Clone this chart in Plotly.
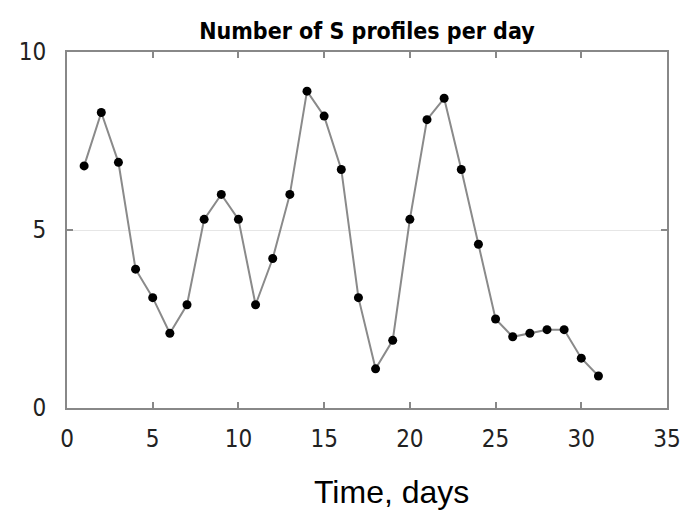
import plotly.graph_objects as go

days = list(range(1, 32))
profiles = [6.8, 8.3, 6.9, 3.9, 3.1, 2.1, 2.9, 5.3, 6.0, 5.3,
            2.9, 4.2, 6.0, 8.9, 8.2, 6.7, 3.1, 1.1, 1.9, 5.3,
            8.1, 8.7, 6.7, 4.6, 2.5, 2.0, 2.1, 2.2, 2.2, 1.4, 0.9]
x_ticks = [0, 5, 10, 15, 20, 25, 30, 35]
y_ticks = [0, 5, 10]

fig = go.Figure()
fig.add_trace(go.Scatter(
    x=days, y=profiles, mode="lines+markers",
    line=dict(color="#8a8a8a", width=2),
    marker=dict(color="black", size=9),
    showlegend=False,
))

axis_font = dict(family="DejaVu Sans Condensed", size=24, color="#222222")
fig.update_layout(
    width=682, height=514,
    margin=dict(l=67, r=15, t=52, b=106),
    paper_bgcolor="white", plot_bgcolor="white",
    title=dict(text="<b>Number of S profiles per day</b>", x=0.538, xanchor="center",
               y=0.94, yanchor="middle",
               font=dict(family="DejaVu Sans Condensed, DejaVu Sans", size=23, color="black")),
    xaxis=dict(range=[0, 35], tickvals=x_ticks, ticks="inside", ticklen=6,
               tickcolor="#888888", tickwidth=1.5, showline=True, linecolor="#888888",
               linewidth=2, mirror="ticks", showgrid=False, zeroline=False,
               tickfont=axis_font, automargin=False, ticklabelstandoff=8),
    yaxis=dict(range=[0, 10], tickvals=y_ticks, ticks="inside", ticklen=6,
               tickcolor="#888888", tickwidth=1.5, showline=True, linecolor="#888888",
               linewidth=2, mirror="ticks", showgrid=True, gridcolor="#e6e6e6",
               gridwidth=1, zeroline=False, tickfont=axis_font, automargin=False,
               ticklabelstandoff=14),
    annotations=[dict(text="Time, days", xref="paper", yref="paper", x=0.54, y=-0.235,
                      xanchor="center", yanchor="middle", showarrow=False,
                      font=dict(family="Liberation Sans, Arial", size=32, color="black"))],
)

fig.write_html("out.html")
